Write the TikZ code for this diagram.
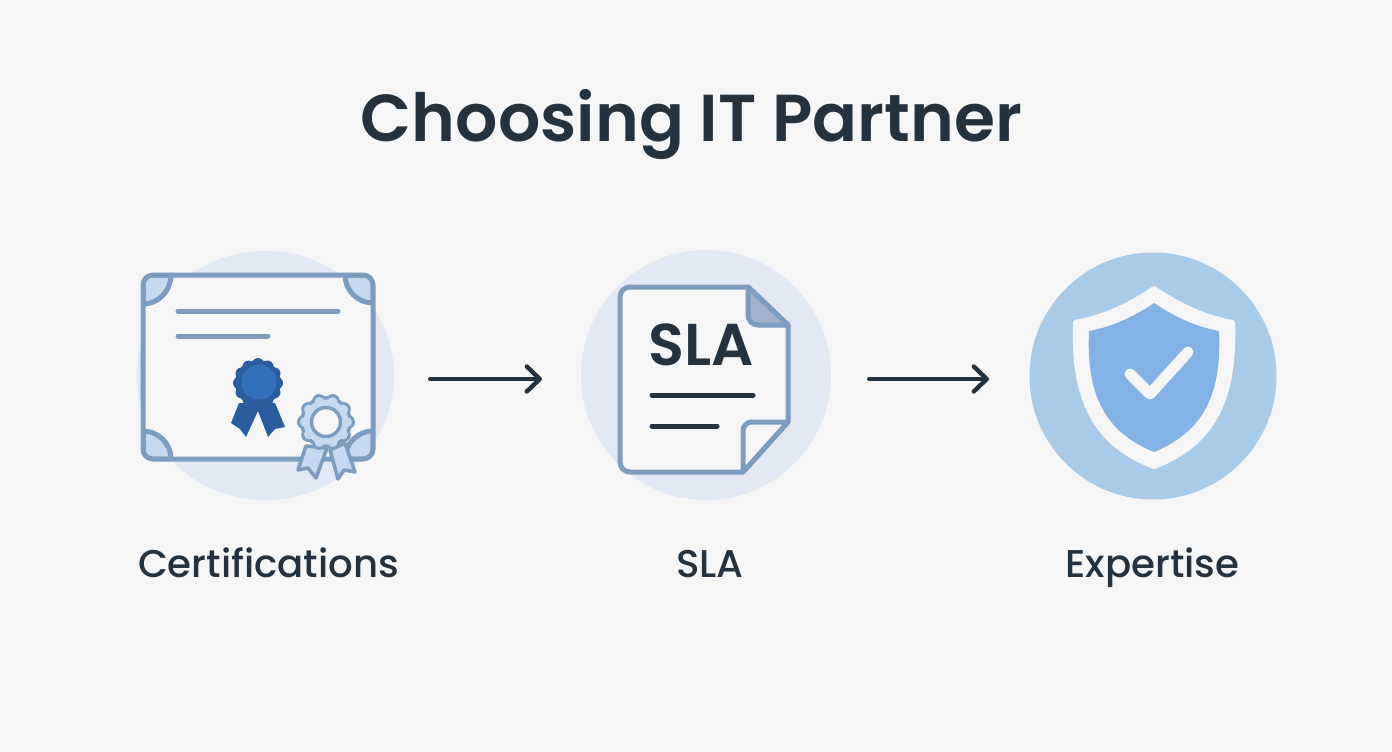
\documentclass[tikz,border=0pt]{standalone}
\usepackage{fontspec}
\setmainfont{Poppins}
\usetikzlibrary{arrows.meta, calc}
\definecolor{pagebg}{HTML}{F6F6F7}
\definecolor{inktext}{HTML}{25323E}
\definecolor{discpale}{HTML}{E2E9F4}
\definecolor{discblue}{HTML}{A9CBEA}
\definecolor{edgeblue}{HTML}{7C9CC0}
\definecolor{cornerblue}{HTML}{C5DAF0}
\definecolor{sealdark}{HTML}{2B5C9E}
\definecolor{sealmid}{HTML}{3570BC}
\definecolor{shieldblue}{HTML}{83B2E6}
\definecolor{foldgrey}{HTML}{A0B3CB}
\newfontfamily\titlefont{Poppins SemiBold}
\newfontfamily\capfont{Poppins Medium}
\tikzset{
  disc/.style={circle, draw=none, inner sep=0pt, minimum size=#1},
  caption/.style={anchor=base, text=inktext, font=\capfont\fontsize{38.7}{39}\selectfont},
  flowarrow/.style={draw=inktext, line width=4pt, line cap=round, -{Straight Barb[length=13pt,width=25pt,line width=4.4pt,round]}},
  paperedge/.style={draw=edgeblue, line width=5pt, line join=round},
  textrule/.style={draw=edgeblue, line width=5pt, line cap=round},
  docrule/.style={draw=inktext, line width=5pt, line cap=round},
  sealedge/.style={draw=edgeblue, line width=3.5pt, line join=round},
}
\begin{document}
\begin{tikzpicture}[x=1pt, y=-1pt]

\fill[pagebg] (0,0) rectangle (1392,752);
\useasboundingbox (0,0) rectangle (1392,752);

\node[anchor=base, text=inktext, font=\titlefont\fontsize{66.4}{67}\selectfont] (title) at (691.5,141) {Choosing IT Partner};

% discs
\fill[discpale] (265.5,375.5) ellipse[x radius=128.5, y radius=124.5];
\node[disc=250pt, fill=discpale] (sladisc) at (706,375) {};
\node[disc=247pt, fill=discblue] (shielddisc) at (1153,376) {};

% certificate sheet
\fill[pagebg, rounded corners=10pt] (143,275) rectangle (373,459);
\begin{scope}
\clip[rounded corners=10pt] (143,275) rectangle (373,459);
\foreach \cx/\cy/\ax/\ay/\bx/\by in {143/275/171/275/143/304, 373/275/345/275/373/303, 143/459/171/459/143/431, 373/459/345/459/373/431}
\draw[paperedge, fill=cornerblue] (\ax,\ay) .. controls ({\ax},{\ay+0.55*(\by-\ay)}) and ({\bx+0.55*(\ax-\bx)},{\by}) .. (\bx,\by) -- (\cx,\cy) -- cycle;
\end{scope}
\draw[paperedge, rounded corners=10pt] (143,275) rectangle (373,459);
\draw[textrule] (178,311) -- (338,311);
\draw[textrule] (178,336) -- (268,336);

% dark seal
\fill[sealdark, line join=round] (239,403) -- (231,423) -- (240,429) -- (246,437) -- (258,411) -- (268,437) -- (275,429) -- (285,427) -- (275,403) -- cycle;
\fill[sealdark] (258,383) circle[radius=23];
\foreach \a in {0,30,...,330}
\fill[sealdark] ($(258,383)+(\a:19)$) circle[radius=6];
\fill[sealmid] (259,382) circle[radius=17.5];

% pale seal
\draw[sealedge, fill=cornerblue] (306,446) -- (298,470) -- (308,468) -- (316,478) -- (327,448) -- cycle;
\draw[sealedge, fill=cornerblue] (330,450) -- (338,479) -- (344,470) -- (355,472) -- (345,443) -- cycle;
\fill[edgeblue] (326,422) circle[radius=26];
\foreach \a in {0,36,...,324}
\fill[edgeblue] ($(326,422)+(\a:22)$) circle[radius=7];
\fill[cornerblue] (326,422) circle[radius=22.5];
\foreach \a in {0,36,...,324}
\fill[cornerblue] ($(326,422)+(\a:21)$) circle[radius=5];
\draw[sealedge, fill=pagebg] (326,422) circle[radius=14.5];

% SLA page
\draw[paperedge, fill=pagebg] (748,287) -- (630,287) to[out=180,in=90] (620,297) -- (620,462) to[out=-90,in=180] (630,472) -- (743,472) -- (788,422) -- (788,325) -- cycle;
\draw[paperedge, fill=foldgrey] (748,287) -- (748,315) to[out=-90,in=180] (758,325) -- (788,325) -- cycle;
\draw[paperedge, fill=pagebg] (788,422) -- (752,422) to[out=180,in=90] (743,431) -- (743,472) -- cycle;
\node[anchor=base, text=inktext, font=\titlefont\fontsize{59}{59}\selectfont] (slamark) at (701,365) {SLA};
\draw[docrule] (652,395) -- (753,395);
\draw[docrule] (652,426) -- (717,426);

% shield
\path[fill=pagebg, draw=pagebg, line width=4pt, line join=round] (1154,288) .. controls (1132,303) and (1105,317) .. (1075,322) .. controls (1072,400) and (1095,445) .. (1154,467) .. controls (1213,445) and (1236,400) .. (1233,322) .. controls (1203,317) and (1176,303) .. (1154,288) -- cycle;
\fill[shieldblue] (1154,303) .. controls (1135,316) and (1112,327) .. (1089,331) .. controls (1086,395) and (1105,432) .. (1154,452) .. controls (1203,432) and (1222,395) .. (1219,331) .. controls (1196,327) and (1173,316) .. (1154,303) -- cycle;
\draw[draw=pagebg, line width=11pt, line cap=round, line join=round] (1130,374) -- (1150,394) -- (1188,352);

% connectors
\coordinate (certout) at (430,379);
\coordinate (slain) at (542,379);
\coordinate (slaout) at (869,379);
\coordinate (shieldin) at (989,379);
\foreach \i/\j in {certout/slain, slaout/shieldin}
\draw[flowarrow] (\i) -- (\j);

% labels
\node[caption] (certlabel) at (268.5,577) {Certifications};
\node[caption] (slalabel) at (710,577) {SLA};
\node[caption] (expertlabel) at (1152.5,577) {Expertise};

\end{tikzpicture}
\end{document}
